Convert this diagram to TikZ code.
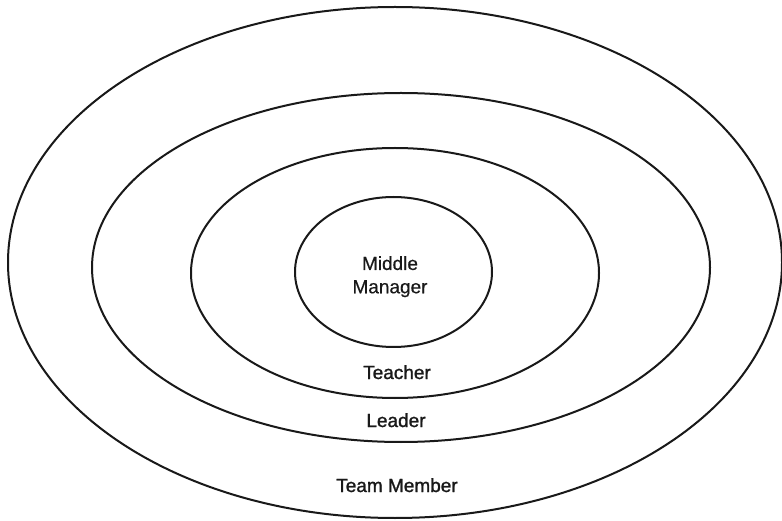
\documentclass[tikz,border=0pt]{standalone}
\usepackage{fontspec}
\setmainfont{Liberation Sans}
\newfontfamily\lblfont{Liberation Sans}[FakeBold=1.3]
\newfontfamily\lbllight{Liberation Sans}[FakeBold=0.5]
\begin{document}
\begin{tikzpicture}[x=1pt,y=1pt,
  ring/.style={draw=black!90,line width=2pt},
  lbl/.style={inner sep=0pt,font=\lblfont\fontsize{19}{23.3}\selectfont,text=black!90},
  lbllt/.style={lbl,font=\lbllight\fontsize{19}{23.3}\selectfont}]
\useasboundingbox (0,0) rectangle (782,520);
\fill[white] (0,0) rectangle (782,520);
\draw[ring] (395,257.5) ellipse [x radius=387pt, y radius=255.5pt];
\draw[ring] (401,252.5) ellipse [x radius=309pt, y radius=174.5pt];
\draw[ring] (395,247) ellipse [x radius=204pt, y radius=125pt];
\draw[ring] (393.5,248) ellipse [x radius=98.5pt, y radius=75pt];
\node[lbllt,align=center] (mm) at (390,243.3) {Middle\\Manager};
\node[lbl,anchor=base] (teacher) at (397,141) {Teacher};
\node[lbl,anchor=base] (leader) at (396,93) {Leader};
\node[lbl,anchor=base] (team) at (397,28) {Team Member};
\end{tikzpicture}
\end{document}
